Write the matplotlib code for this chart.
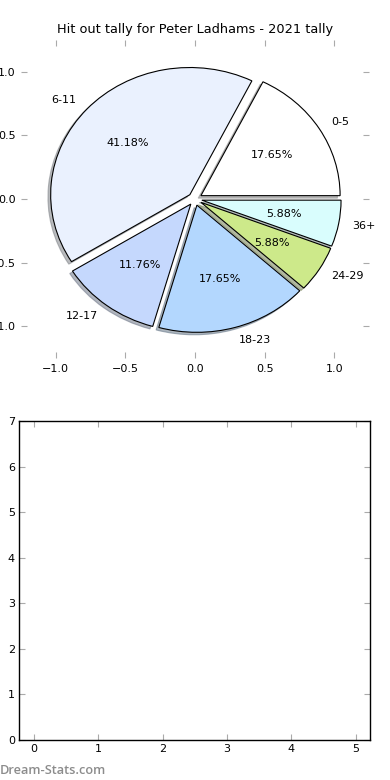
import matplotlib
matplotlib.use("Agg")
import matplotlib.pyplot as plt

labels = ["0-5", "6-11", "12-17", "18-23", "24-29", "36+"]
values = [3, 7, 2, 3, 1, 1]
colors = ["#ffffff", "#eaf1fe", "#c5d8fd", "#b3d7fe", "#cde98a", "#d9fdfd"]
explode = [0.05, 0.05, 0.05, 0.05, 0.05, 0.05]
title = "Hit out tally for Peter Ladhams - 2021 tally"
bar_xlim = (-0.23, 5.22)
bar_ylim = (0, 7)

plt.rcParams['font.family'] = ['DejaVu Sans']
fig = plt.figure(figsize=(3.9, 7.8), dpi=100)

ax1 = fig.add_axes([21/390, 1 - 358/780, 348/390, 318/780])
wedges, texts, autotexts = ax1.pie(values, labels=labels, colors=colors, explode=explode,
                                   autopct='%1.2f%%',
                                   shadow=dict(ox=-0.014, oy=-0.014, shade=0.5),
                                   startangle=0,
                                   wedgeprops=dict(edgecolor='black', linewidth=0.8),
                                   textprops=dict(fontsize=8))
ax1.set_aspect('auto')
ax1.set_xlim(-1.25, 1.25)
ax1.set_ylim(-1.25, 1.25)
ax1.set_frame_on(False)
ax1.set_xticks([-1.0, -0.5, 0.0, 0.5, 1.0])
ax1.set_yticks([-1.0, -0.5, 0.0, 0.5, 1.0])
ax1.tick_params(direction='in', length=4, color='#aaaaaa', labelsize=8,
                top=True, right=True, bottom=True, left=True, pad=4)
ax1.set_title(title, fontsize=9.3, pad=5)

ax2 = fig.add_axes([19/390, 1 - 740/780, 351/390, 319/780])
ax2.set_xlim(*bar_xlim)
ax2.set_ylim(*bar_ylim)
ax2.set_xticks(range(0, 6))
ax2.set_yticks(range(0, 8))
ax2.tick_params(direction='in', length=4, color='#aaaaaa', labelsize=8,
                top=True, right=True, pad=3)
for s in ax2.spines.values():
    s.set_linewidth(1.0)

fig.text(0.0, 1 - 770/780, "Dream-Stats.com", fontsize=9.2, color='#8c8c8c',
         family=['Open Sans', 'DejaVu Sans'], fontweight='semibold',
         va='center', ha='left')

fig.savefig("out.png", dpi=100)
